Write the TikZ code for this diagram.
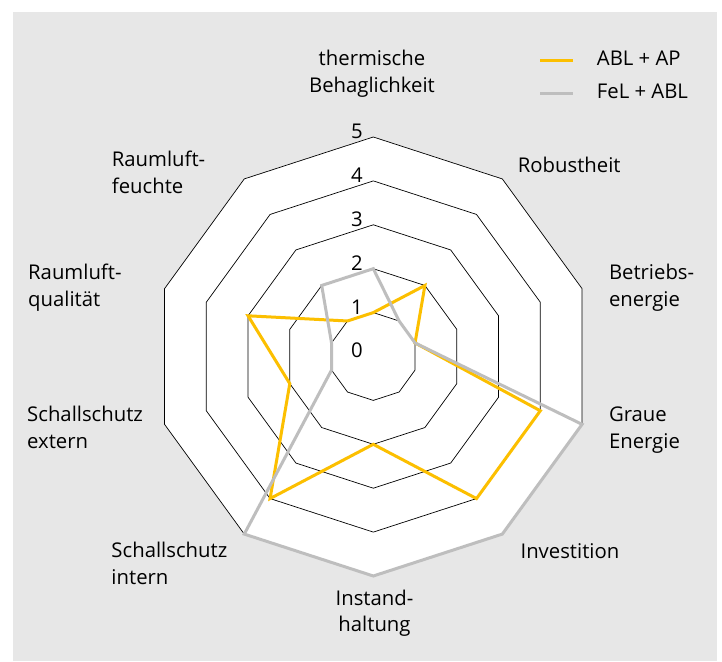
\documentclass[tikz,border=0pt]{standalone}
\usepackage{fontspec}
\setmainfont{Open Sans}
\definecolor{bgGray}{HTML}{E7E7E7}
\definecolor{ablYellow}{HTML}{FCBF00}
\definecolor{felGray}{HTML}{BEBEBE}
\newcommand{\lev}{43.9}

\begin{document}
\begin{tikzpicture}[x=1pt,y=1pt,font=\fontsize{20.3}{26.5}\selectfont,
    grid/.style={draw=black,line width=0.7pt,fill=white},
    serie/.style={line width=3pt},
    lbl/.style={inner sep=0pt,align=left,anchor=base west}]
    \useasboundingbox (-373.3,-304.5) rectangle (348.7,356.5);
    \fill[bgGray] (-360.3,-304.5) rectangle (343.7,344.5);
    % Raster 1..5
    \foreach \k in {5,4,3,2,1}
        \draw[grid] (90:{\k*\lev}) \foreach \a in {126,162,...,414} {-- (\a:{\k*\lev})} -- cycle;
    \foreach \k in {0,...,5}
        \node[inner sep=0pt] (lev\k) at (-16.3,{5.8+\k*\lev}) {\k};
    % Datenreihen
    \draw[serie,ablYellow] (90:{1*\lev}) -- (54:{2*\lev}) -- (18:{1*\lev}) -- (-18:{4*\lev}) -- (-54:{4*\lev})
        -- (-90:{2*\lev}) -- (-126:{4*\lev}) -- (-162:{2*\lev}) -- (162:{3*\lev}) -- (126:{1*\lev}) -- cycle;
    \draw[serie,felGray] (90:{2*\lev}) -- (54:{1*\lev}) -- (18:{1*\lev}) -- (-18:{5*\lev}) -- (-54:{5*\lev})
        -- (-90:{5*\lev}) -- (-126:{5*\lev}) -- (-162:{1*\lev}) -- (162:{1*\lev}) -- (126:{2*\lev}) -- cycle;
    % Achsenbeschriftung (base = letzte Zeile)
    \node[lbl,align=center,anchor=base] (therm) at (-1.3,264.3) {thermische\\Behaglichkeit};
    \node[lbl] (robust) at (144.4,184.2) {Robustheit};
    \node[lbl] (betrieb) at (235.5,50) {Betriebs-\\energie};
    \node[lbl] (graue) at (235.5,-91.7) {Graue\\Energie};
    \node[lbl] (invest) at (147.1,-201.8) {Investition};
    \node[lbl,align=center,anchor=base] (instand) at (1.2,-275) {Instand-\\haltung};
    \node[lbl] (intern) at (-262,-227.7) {Schallschutz\\intern};
    \node[lbl] (extern) at (-346.3,-91.7) {Schallschutz\\extern};
    \node[lbl] (quali) at (-345.3,50) {Raumluft-\\qualität};
    \node[lbl] (feuchte) at (-261.6,163.3) {Raumluft-\\feuchte};
    % Legende
    \coordinate (ablA) at (166.7,295.8);
    \coordinate (ablB) at (199.7,295.8);
    \coordinate (felA) at (166.7,263.2);
    \coordinate (felB) at (199.7,263.2);
    \draw[line width=3.5pt,ablYellow] (ablA) -- (ablB);
    \draw[line width=3.5pt,felGray] (felA) -- (felB);
    \node[lbl] (ablTxt) at (223.4,290.8) {ABL + AP};
    \node[lbl] (felTxt) at (223.4,258.2) {FeL + ABL};
\end{tikzpicture}
\end{document}
